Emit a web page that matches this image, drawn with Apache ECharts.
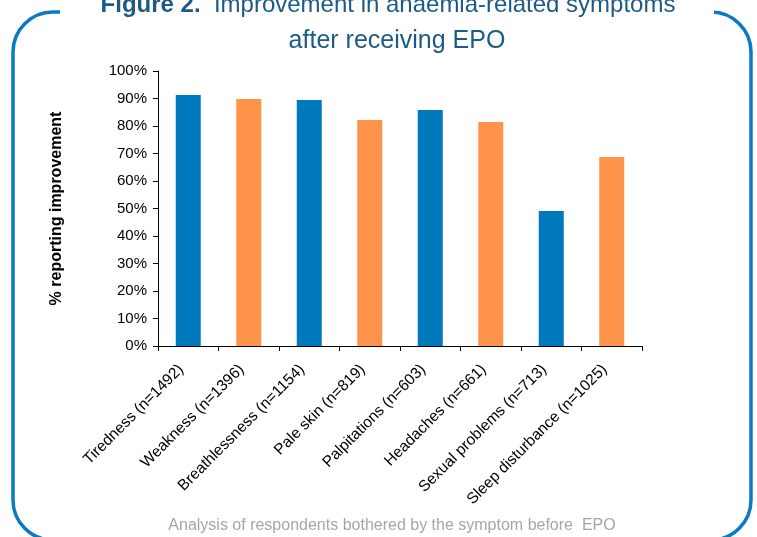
<!DOCTYPE html>
<html>
<head>
<meta charset="utf-8">
<script src="https://cdn.jsdelivr.net/npm/echarts@6/dist/echarts.min.js"></script>
<style>
  html, body { margin: 0; padding: 0; background: #fff; }
  #chart { width: 757px; height: 537px; }
</style>
</head>
<body>
<div id="chart"></div>
<script>
// symptom categories (x axis)
const categories = [
  'Tiredness (n=1492)',
  'Weakness (n=1396)',
  'Breathlessness (n=1154)',
  'Pale skin (n=819)',
  'Palpitations (n=603)',
  'Headaches (n=661)',
  'Sexual problems (n=713)',
  'Sleep disturbance (n=1025)'
];
// % reporting improvement
const improvement = [91.3, 89.8, 89.5, 82.2, 85.8, 81.5, 49.1, 68.7];
// bars alternate blue / orange
const barColors = ['#0079bc', '#ff9349'];

const FONT = '"Liberation Sans", Arial, sans-serif';

function renderChart() {
  const el = document.getElementById('chart');
  const chart = echarts.init(el);
  chart.setOption({
    animation: false,
    grid: { left: 158, right: 115, top: 71, bottom: 191 },
    xAxis: {
      type: 'category',
      data: categories,
      axisLine: { lineStyle: { color: '#000', width: 1 } },
      axisTick: { show: true, length: 5, lineStyle: { color: '#000' } },
      axisLabel: {
        interval: 0,
        rotate: 45,
        color: '#000',
        fontSize: 15.5,
        fontFamily: FONT,
        margin: 14,
        padding: [0, 10, 0, 0]
      }
    },
    yAxis: {
      type: 'value',
      min: 0,
      max: 100,
      interval: 10,
      name: '% reporting improvement',
      nameLocation: 'middle',
      nameGap: 93,
      nameTextStyle: { color: '#000', fontSize: 16, fontWeight: 'bold', fontFamily: FONT },
      axisLine: { show: true, lineStyle: { color: '#000', width: 1 } },
      axisTick: { show: true, length: 5, lineStyle: { color: '#000' } },
      splitLine: { show: false },
      axisLabel: {
        formatter: '{value}%',
        color: '#000',
        fontSize: 15,
        fontFamily: FONT,
        margin: 11
      }
    },
    series: [{
      type: 'bar',
      barWidth: 25,
      data: improvement.map((v, i) => ({
        value: v,
        itemStyle: { color: barColors[i % 2] }
      }))
    }],
    graphic: [
      // rounded blue frame
      {
        type: 'rect', z: 10,
        shape: { x: 13, y: 12, width: 738, height: 528, r: 40 },
        style: { fill: 'none', stroke: '#0a7bc2', lineWidth: 3.5 }
      },
      // gap in the frame behind the title
      {
        type: 'rect', z: 11,
        shape: { x: 60, y: 0, width: 654, height: 22 },
        style: { fill: '#fff' }
      },
      {
        type: 'text', z: 12,
        x: 388, y: 5,
        style: {
          text: '{b|Figure 2.}  Improvement in anaemia-related symptoms',
          fill: '#1d5a84',
          font: '24px ' + FONT,
          align: 'center',
          verticalAlign: 'middle',
          rich: { b: { fontWeight: 'bold', fontSize: 24, fontFamily: FONT, fill: '#1d5a84' } }
        }
      },
      {
        type: 'text', z: 12,
        x: 397, y: 41,
        style: {
          text: 'after receiving EPO',
          fill: '#1d5a84',
          font: '25px ' + FONT,
          align: 'center',
          verticalAlign: 'middle'
        }
      },
      {
        type: 'text', z: 12,
        x: 392, y: 526,
        style: {
          text: 'Analysis of respondents bothered by the symptom before  EPO',
          fill: '#a6a6a6',
          font: '16px ' + FONT,
          align: 'center',
          verticalAlign: 'middle'
        }
      }
    ]
  });
}

window.addEventListener('DOMContentLoaded', renderChart);
</script>
</body>
</html>
